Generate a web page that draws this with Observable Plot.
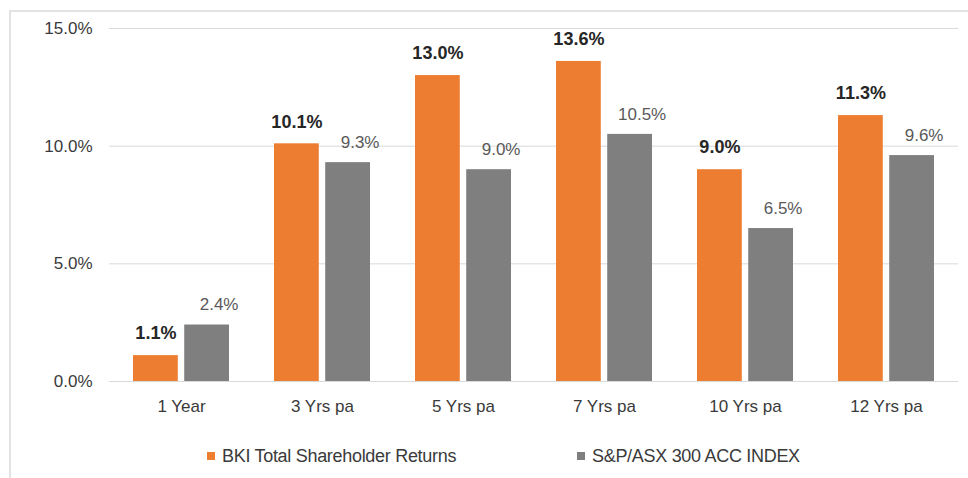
<!DOCTYPE html>
<html>
<head>
<meta charset="utf-8">
<script src="https://cdn.jsdelivr.net/npm/d3@7"></script>
<script src="https://cdn.jsdelivr.net/npm/@observablehq/plot@0.6"></script>
<style>
  body { margin: 0; background: #fff; font-family: "Liberation Sans", Arial, sans-serif; }
  #wrap { position: relative; width: 968px; height: 478px; overflow: hidden; background: #fff; }
  #frame { position: absolute; left: 9px; top: 10px; width: 1000px; height: 500px;
           border-left: 2px solid #e3e3e3; border-top: 2px solid #e3e3e3; pointer-events: none; }
  #chart { position: absolute; left: 0; top: 0; }
  .leg { position: absolute; top: 446px; height: 20px; line-height: 20px; font-size: 18px;
         color: #3a3a3a; white-space: nowrap; letter-spacing: -0.3px; }
  .sw { position: absolute; top: 6px; left: 0; width: 8px; height: 8px; }
  .leg span.t { position: absolute; left: 15px; top: 0; }
</style>
</head>
<body>
<div id="wrap">
  <div id="chart"></div>
  <div id="frame"></div>
  <div id="legend"></div>
</div>
<script>
const periods = ["1 Year", "3 Yrs pa", "5 Yrs pa", "7 Yrs pa", "10 Yrs pa", "12 Yrs pa"];
const seriesNames = ["BKI Total Shareholder Returns", "S&P/ASX 300 ACC INDEX"];
const bkiValues = [1.1, 10.1, 13.0, 13.6, 9.0, 11.3];
const indexValues = [2.4, 9.3, 9.0, 10.5, 6.5, 9.6];
const yTicks = [0, 5, 10, 15];
const seriesColors = ["#ED7D31", "#7F7F7F"];

const bkiRows = periods.map((p, i) => ({period: p, series: seriesNames[0], value: bkiValues[i]}));
const idxRows = periods.map((p, i) => ({period: p, series: seriesNames[1], value: indexValues[i]}));

const W = 968, ML = 109, MR = 10;
const band = (W - ML - MR) / periods.length * 0.68;
const barW = 45;
const inset = band - barW;
const half = band / 2 - barW / 2;
const fmt = v => v.toFixed(1) + "%";

const plot = Plot.plot({
  width: W,
  height: 430,
  marginLeft: ML,
  marginRight: MR,
  marginTop: 28,
  marginBottom: 49,
  style: {fontFamily: "'Liberation Sans', Arial, sans-serif", fontSize: "17px", color: "#3a3a3a", background: "transparent", overflow: "visible"},
  x: {domain: periods, paddingInner: 0.32, paddingOuter: 0.16, label: null, tickSize: 0, tickPadding: 18},
  y: {domain: [0, 15], ticks: yTicks, tickFormat: fmt, label: null, tickSize: 0, tickPadding: 17},
  marks: [
    Plot.ruleY(yTicks, {y: d => d, stroke: "#d9d9d9", strokeWidth: 1}),
    Plot.barY(bkiRows, {x: "period", y: "value", fill: seriesColors[0], insetRight: inset}),
    Plot.barY(idxRows, {x: "period", y: "value", fill: seriesColors[1], insetLeft: inset}),
    Plot.text(bkiRows, {x: "period", y: "value", text: d => fmt(d.value), dx: -half, dy: -22,
      fontWeight: "bold", fontSize: 18, fill: "#262626"}),
    Plot.text(idxRows, {x: "period", y: "value", text: d => fmt(d.value), dx: half + 12, dy: -20,
      fontSize: 17, fill: "#595959"})
  ]
});
document.getElementById("chart").appendChild(plot);

const legend = document.getElementById("legend");
const legLeft = [207, 577];
seriesNames.forEach((name, i) => {
  const d = document.createElement("div");
  d.className = "leg";
  d.style.left = legLeft[i] + "px";
  d.innerHTML = `<div class="sw" style="background:${seriesColors[i]}"></div><span class="t"></span>`;
  d.querySelector(".t").textContent = name;
  legend.appendChild(d);
});
</script>
</body>
</html>
